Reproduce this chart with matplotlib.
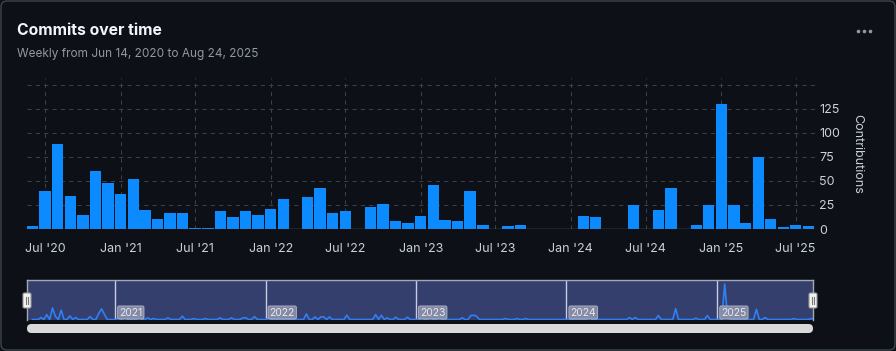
import numpy as np
import pandas as pd
import matplotlib
matplotlib.use("Agg")
import matplotlib.pyplot as plt
from matplotlib.patches import FancyBboxPatch

plt.rcParams['font.family'] = ['Inter', 'DejaVu Sans']

# monthly commits, Jun 2020 .. Aug 2025
months = pd.date_range('2020-06-01', '2025-08-01', freq='MS')
commits = [3, 40, 88, 34, 15, 60, 48, 36, 52, 20, 10, 17, 17, 1, 1, 19, 12, 19, 15, 21,
           31, 0, 33, 43, 17, 19, 0, 23, 26, 8, 6, 14, 46, 9, 8, 39, 4, 0, 3, 4,
           0, 0, 0, 0, 14, 12, 0, 0, 25, 0, 20, 43, 0, 4, 25, 130, 25, 6, 75, 10,
           2, 4, 3]

tick_labels = ["Jul '20", "Jan '21", "Jul '21", "Jan '22", "Jul '22", "Jan '23",
               "Jul '23", "Jan '24", "Jul '24", "Jan '25", "Jul '25"]
y_ticks = [0, 25, 50, 75, 100, 125, 150]

# navigator: weekly series from Jun 14, 2020 (week index -> commits), other weeks are 0
nav_weeks = [3, 5, 7, 8, 10, 13, 15, 20, 23, 24, 25, 30, 32, 37, 40, 42, 47, 52, 56, 60,
             65, 69, 73, 74, 77, 82, 95, 98, 100, 101, 103, 109, 119, 121, 123, 126, 130, 135, 138, 141,
             149, 152, 153, 154, 164, 168, 171, 193, 207, 209, 217, 223, 230, 234, 240, 241, 251, 254, 264, 270]
nav_values = [6, 15, 35, 9, 28, 11, 6, 9, 18, 32, 15, 5, 17, 10, 5, 3, 5, 10, 3, 3,
              5, 5, 5, 5, 9, 5, 17, 8, 8, 8, 8, 13, 15, 13, 5, 7, 7, 6, 6, 6,
              5, 12, 13, 10, 3, 3, 3, 7, 6, 6, 12, 33, 4, 12, 108, 6, 31, 6, 3, 3]
nav_years = [2021, 2022, 2023, 2024, 2025]

bg = '#0d1117'
bar_color = '#0b8bff'
grid_color = '#3a414a'
label_color = '#c9d1d9'
muted = '#9198a1'

W, H = 896, 351
fig = plt.figure(figsize=(W / 100, H / 100), dpi=100, facecolor=bg)


def box(l, t, r, b):
    return [l / W, 1 - b / H, (r - l) / W, (b - t) / H]


# main bar chart
ax = fig.add_axes(box(27, 78, 815, 229))
ax.set_facecolor(bg)
ax.bar(months, commits, width=27.5, color=bar_color, zorder=3)
ax.set_xlim(pd.Timestamp('2020-05-18'), pd.Timestamp('2025-08-17'))
ax.set_ylim(0, 157)
ax.set_yticks(y_ticks)
ax.set_yticklabels([str(v) if v < 150 else '' for v in y_ticks])
ax.yaxis.tick_right()
tick_dates = pd.date_range('2020-07-01', '2025-07-01', freq='6MS')
ax.set_xticks(tick_dates)
ax.set_xticklabels(tick_labels)
ax.tick_params(axis='both', length=0, colors=label_color, labelsize=9)
ax.tick_params(axis='x', pad=10)
ax.tick_params(axis='y', pad=3)
ax.grid(True, color=grid_color, linestyle=(0, (4, 4)), linewidth=0.75, zorder=0)
for s in ax.spines.values():
    s.set_visible(False)
ax.axhline(0, color='#656c76', lw=1, zorder=4)

# navigator
nav = fig.add_axes(box(27, 280, 813.3, 320))
nav.set_facecolor('#353f6e')
weeks = pd.date_range('2020-06-14', periods=272, freq='7D')
weekly = np.zeros(len(weeks))
weekly[nav_weeks] = nav_values
nav.plot(weeks, weekly, color='#2f7ff5', lw=1.2, zorder=3)
nav.set_xlim(pd.Timestamp('2020-06-01'), pd.Timestamp('2025-08-22'))
nav.set_ylim(-1.5, 120)
nav.set_xticks([])
nav.set_yticks([])
for side in ['top', 'left', 'right']:
    nav.spines[side].set_color('#a4a8b4')
    nav.spines[side].set_linewidth(1)
nav.spines['bottom'].set_visible(False)
for yr in nav_years:
    d = pd.Timestamp(yr, 1, 1)
    nav.axvline(d, color='#c9cce0', lw=1, zorder=2)
    nav.annotate(str(yr), xy=(d, 0), xytext=(4, 7), textcoords='offset pixels',
                 ha='left', va='center', fontsize=7.5, color='#e6e8f0', zorder=4,
                 bbox=dict(boxstyle='round,pad=0.15', fc='#8e93ab', ec='#b8bccc', lw=0.6, alpha=0.9))

# overlay for frame, header, scrollbar and handles
ov = fig.add_axes([0, 0, 1, 1])
ov.set_xlim(0, W)
ov.set_ylim(H, 0)
ov.axis('off')
ov.patch.set_visible(False)

ov.add_patch(FancyBboxPatch((1, 1), W - 2, H - 2, boxstyle='round,pad=0,rounding_size=6',
                            fc='none', ec='#3d444d', lw=1))
ov.text(17, 35, 'Commits over time', fontsize=11.3, fontweight='bold', color='#f0f6fc', va='baseline')
ov.text(17, 57, 'Weekly from Jun 14, 2020 to Aug 24, 2025', fontsize=8.5, color=muted, va='baseline')
ov.scatter([858, 864, 870], [31, 31, 31], s=2.5, color=muted)
ov.text(857, 154, 'Contributions', rotation=270, fontsize=9, color=label_color, ha='center', va='center')

ov.add_patch(FancyBboxPatch((27, 324), 786, 9, boxstyle='round,pad=0,rounding_size=4.5',
                            fc='#d9d9d9', ec='none'))
for hx in (27, 813):
    ov.add_patch(FancyBboxPatch((hx - 4, 293), 8, 15, boxstyle='round,pad=0,rounding_size=1.5',
                                fc='#f2f2f2', ec='#9a9a9a', lw=0.8))
    ov.plot([hx - 1.2, hx - 1.2], [297, 304], color='#777777', lw=0.8)
    ov.plot([hx + 1.2, hx + 1.2], [297, 304], color='#777777', lw=0.8)

fig.savefig('out.png', dpi=100, facecolor=bg)
